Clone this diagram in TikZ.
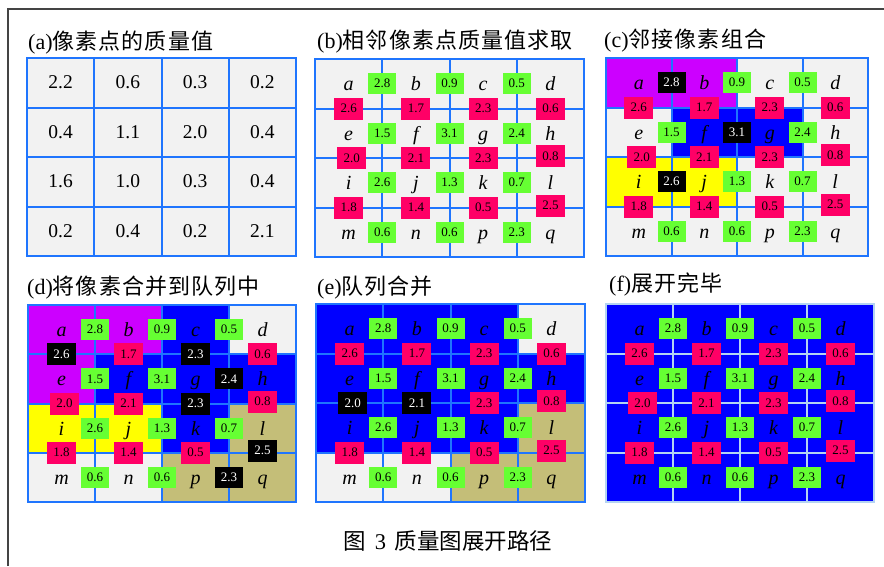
\documentclass[tikz,border=0pt]{standalone}
\usepackage{fontspec}
\setmainfont{Liberation Serif}
\newfontfamily\cjk{Noto Sans CJK SC}
\newfontfamily\cjkt[LetterSpace=5]{Noto Sans CJK SC}
\definecolor{cellgray}{HTML}{F2F2F2}
\definecolor{gridblue}{HTML}{1F75FE}
\definecolor{lightgrid}{HTML}{B4D3F2}
\definecolor{vgreen}{HTML}{66FF33}
\definecolor{vred}{HTML}{FF0066}
\definecolor{vpurple}{HTML}{CC00FF}
\definecolor{vblue}{HTML}{0000FF}
\definecolor{vyellow}{HTML}{FFFF00}
\definecolor{vkhaki}{HTML}{C4BE78}
\definecolor{framegray}{HTML}{444444}
\tikzset{
  letter/.style={font=\fontsize{20}{20}\selectfont\itshape, anchor=base, inner sep=0pt},
  bignum/.style={font=\fontsize{19.5}{19.5}\selectfont, anchor=base, inner sep=0pt},
  valbox/.style={minimum width=28pt, minimum height=21pt, inner sep=0pt, font=\fontsize{13}{13}\selectfont},
  greenbox/.style={valbox, fill=vgreen},
  redbox/.style={valbox, fill=vred, minimum width=29pt, minimum height=22pt},
  blackbox/.style={fill=black, text=white},
  cur/.style={},
  gl/.style={draw=gridblue, line width=2pt, line cap=rect},
  title/.style={anchor=base west, inner sep=0pt, font=\fontsize{22}{22}\selectfont},
}
\def\blacklist{}
\def\gridcol{gridblue}
\makeatletter
\newcommand\setcur[1]{\edef\tmp{\noexpand\in@{,#1,}{,\blacklist,}}\tmp
  \ifin@\tikzset{cur/.style={blackbox}}\else\tikzset{cur/.style={}}\fi}
\makeatother
\newcommand\cellfill[3]{\fill[#3] (#1,#2) rectangle ++(1,1);}
\newcommand\panelgrid{%
  \foreach \i in {0,...,4} {\draw[gl,draw=\gridcol] (\i,0) -- (\i,4); \draw[gl,draw=\gridcol] (0,\i) -- (4,\i);}}
\newcommand\panelcontents{%
  \foreach \r/\row in {0/{a,b,c,d},1/{e,f,g,h},2/{i,j,k,l},3/{m,n,p,q}} {
    \foreach \L [count=\c from 0] in \row {
      \node[letter, yshift=-7pt] (\pn-\L) at (\c+.5,\r+.5) {\L};}}
  \foreach \r/\vals in {0/{2.8,0.9,0.5},1/{1.5,3.1,2.4},2/{2.6,1.3,0.7},3/{0.6,0.6,2.3}} {
    \foreach \v [count=\k] in \vals {
      \setcur{g\k\r}
      \node[greenbox,cur] (\pn-g\k\r) at (\k,\r+.5) {\v};}}
  \foreach \k/\vals in {1/{2.6,1.7,2.3,0.6},2/{2.0,2.1,2.3,0.8},3/{1.8,1.4,0.5,2.5}} {
    \foreach \v [count=\c from 0] in \vals {
      \setcur{r\c\k}
      \def\xs{0pt}\def\ys{0pt}%
      \ifnum\c=0 \ifnum\k=2 \def\xs{3pt}\fi\fi
      \ifnum\c=3 \ifnum\k>1 \def\ys{2pt}\fi\fi
      \node[redbox,cur,xshift=\xs,yshift=\ys] (\pn-r\c\k) at (\c+.5,\k) {\v};}}
}
\begin{document}
\begin{tikzpicture}[x=1pt,y=-1pt]
\useasboundingbox (0,0) rectangle (884,566);
\fill[white] (0,0) rectangle (884,566);
\draw[framegray, line width=1.6pt] (8,566) -- (8,9) -- (884,9);

% titles
\node[title] (ta) at (28,49) {(a){\cjkt 像素点的质量值}};
\node[title] (tb) at (317,48) {(b){\cjkt 相邻像素点质量值求取}};
\node[title] (tc) at (604,47) {(c){\cjkt 邻接像素组合}};
\node[title] (td) at (27,294) {(d){\cjkt 将像素合并到队列中}};
\node[title] (te) at (317,294) {(e){\cjkt 队列合并}};
\node[title] (tf) at (609,291) {(f){\cjkt 展开完毕}};

% (a)
\begin{scope}[shift={(27pt,-58pt)},x=67.25pt,y=-49.5pt]
  \fill[cellgray] (0,0) rectangle (4,4);
  \panelgrid
  \foreach \r/\vals in {0/{2.2,0.6,0.3,0.2},1/{0.4,1.1,2.0,0.4},2/{1.6,1.0,0.3,0.4},3/{0.2,0.4,0.2,2.1}} {
    \foreach \v [count=\c from 0] in \vals {
      \node[bignum, yshift=-6pt] (a-\c\r) at (\c+.5,\r+.5) {\v};}}
\end{scope}

% (b)
\begin{scope}[shift={(315pt,-59pt)},x=67.25pt,y=-49.5pt]
  \def\pn{b}
  \fill[cellgray] (0,0) rectangle (4,4);
  \panelgrid
  \panelcontents
\end{scope}

% (c)
\begin{scope}[shift={(606pt,-58pt)},x=65.5pt,y=-49.5pt]
  \def\pn{c}\def\blacklist{g10,g21,g12}
  \fill[cellgray] (0,0) rectangle (4,4);
  \cellfill{0}{0}{vpurple}\cellfill{1}{0}{vpurple}
  \cellfill{1}{1}{vblue}\cellfill{2}{1}{vblue}
  \cellfill{0}{2}{vyellow}\cellfill{1}{2}{vyellow}
  \panelgrid
  \panelcontents
\end{scope}

% (d)
\begin{scope}[shift={(28pt,-305pt)},x=67pt,y=-49.25pt]
  \def\pn{d}\def\blacklist{r01,r21,g31,r22,r33,g33}
  \fill[cellgray] (0,0) rectangle (4,4);
  \cellfill{0}{0}{vpurple}\cellfill{1}{0}{vpurple}\cellfill{0}{1}{vpurple}
  \cellfill{2}{0}{vblue}\cellfill{1}{1}{vblue}\cellfill{2}{1}{vblue}\cellfill{3}{1}{vblue}\cellfill{2}{2}{vblue}
  \cellfill{0}{2}{vyellow}\cellfill{1}{2}{vyellow}
  \cellfill{3}{2}{vkhaki}\cellfill{2}{3}{vkhaki}\cellfill{3}{3}{vkhaki}
  \panelgrid
  \panelcontents
\end{scope}

% (e)
\begin{scope}[shift={(316pt,-304pt)},x=67.25pt,y=-49.5pt]
  \def\pn{e}\def\blacklist{r02,r12}
  \fill[cellgray] (0,0) rectangle (4,4);
  \fill[vblue] (0,0) rectangle (3,3);
  \cellfill{3}{1}{vblue}
  \cellfill{3}{2}{vkhaki}\cellfill{2}{3}{vkhaki}\cellfill{3}{3}{vkhaki}
  \panelgrid
  \panelcontents
\end{scope}

% (f)
\begin{scope}[shift={(606pt,-304pt)},x=67pt,y=-49.5pt]
  \def\pn{f}\def\gridcol{lightgrid}
  \fill[vblue] (0,0) rectangle (4,4);
  \panelgrid
  \panelcontents
\end{scope}

% caption
\node[anchor=base, inner sep=0pt, font=\fontsize{22.5}{22.5}\selectfont] (cap) at (448,549.5)
  {{\cjk 图}\hspace{8.5pt}3\hspace{8.5pt}{\cjk 质量图展开路径}};
\end{tikzpicture}
\end{document}
